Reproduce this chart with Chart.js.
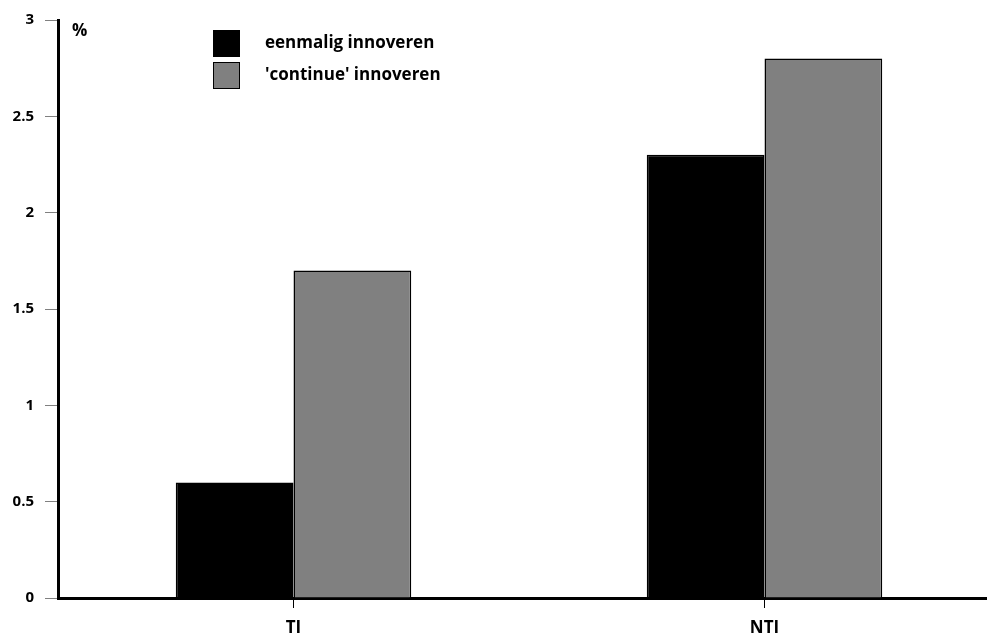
<!DOCTYPE html>
<html>
<head>
<meta charset="utf-8">
<script src="https://cdn.jsdelivr.net/npm/chart.js@4/dist/chart.umd.min.js"></script>
<style>
  html, body { margin: 0; padding: 0; background: #fff; overflow: hidden; }
  #wrap { width: 1000px; height: 642px; }
</style>
</head>
<body>
<div id="wrap"><canvas id="chart"></canvas></div>
<script>
const categories = ['TI', 'NTI'];
const eenmalig = [0.6, 2.3];
const continu = [1.7, 2.8];
const seriesLabels = ['eenmalig innoveren', "'continue' innoveren"];
const yTicks = [0, 0.5, 1, 1.5, 2, 2.5, 3];

const font = '"Open Sans", "DejaVu Sans", sans-serif';

// legend box and "%" mark drawn on top of the chart
const overlay = {
    id: 'overlay',
    afterDraw(chart) {
        const ctx = chart.ctx;
        ctx.save();
        ctx.textBaseline = 'middle';
        ctx.fillStyle = '#000';
        ctx.font = 'bold 17px ' + font;
        ctx.fillText('%', 72, 31);
        chart.data.datasets.forEach((ds, i) => {
            const y = 30 + i * 32;
            ctx.fillStyle = ds.backgroundColor;
            ctx.fillRect(213, y, 27, 27);
            ctx.strokeStyle = '#000';
            ctx.lineWidth = 1;
            ctx.strokeRect(213.5, y + 0.5, 26, 26);
            ctx.fillStyle = '#000';
            ctx.fillText(ds.label, 265, y + 13);
        });
        ctx.restore();
    }
};

new Chart(document.querySelector('#chart').getContext('2d'), {
    type: 'bar',
    data: {
        labels: categories,
        datasets: [
            { label: seriesLabels[0], data: eenmalig, backgroundColor: '#000000', borderColor: '#000', borderWidth: 1.5 },
            { label: seriesLabels[1], data: continu, backgroundColor: '#808080', borderColor: '#000', borderWidth: 1.5 }
        ]
    },
    options: {
        responsive: true,
        maintainAspectRatio: false,
        animation: false,
        layout: { padding: { top: 18, left: 0, right: 0, bottom: 0 } },
        datasets: { bar: { categoryPercentage: 0.5, barPercentage: 1 } },
        plugins: { legend: { display: false }, tooltip: { enabled: false } },
        scales: {
            x: {
                grid: { offset: false, drawOnChartArea: false, tickLength: 10, color: '#000', lineWidth: 1 },
                border: { color: '#000', width: 3 },
                ticks: { color: '#000', font: { family: font, size: 17, weight: 'bold' }, padding: 10 },
                afterFit: scale => { scale.height = 44; }
            },
            y: {
                min: 0,
                max: 3,
                afterBuildTicks: scale => { scale.ticks = yTicks.map(v => ({ value: v })); },
                grid: { drawOnChartArea: false, tickLength: 13, color: '#808080', lineWidth: 1 },
                border: { color: '#000', width: 3 },
                ticks: {
                    color: '#000',
                    font: { family: font, size: 15, weight: 'bold' },
                    padding: 11,
                    callback: v => String(v)
                },
                afterFit: scale => { scale.width = 58; }
            }
        }
    },
    plugins: [overlay]
});
</script>
</body>
</html>
